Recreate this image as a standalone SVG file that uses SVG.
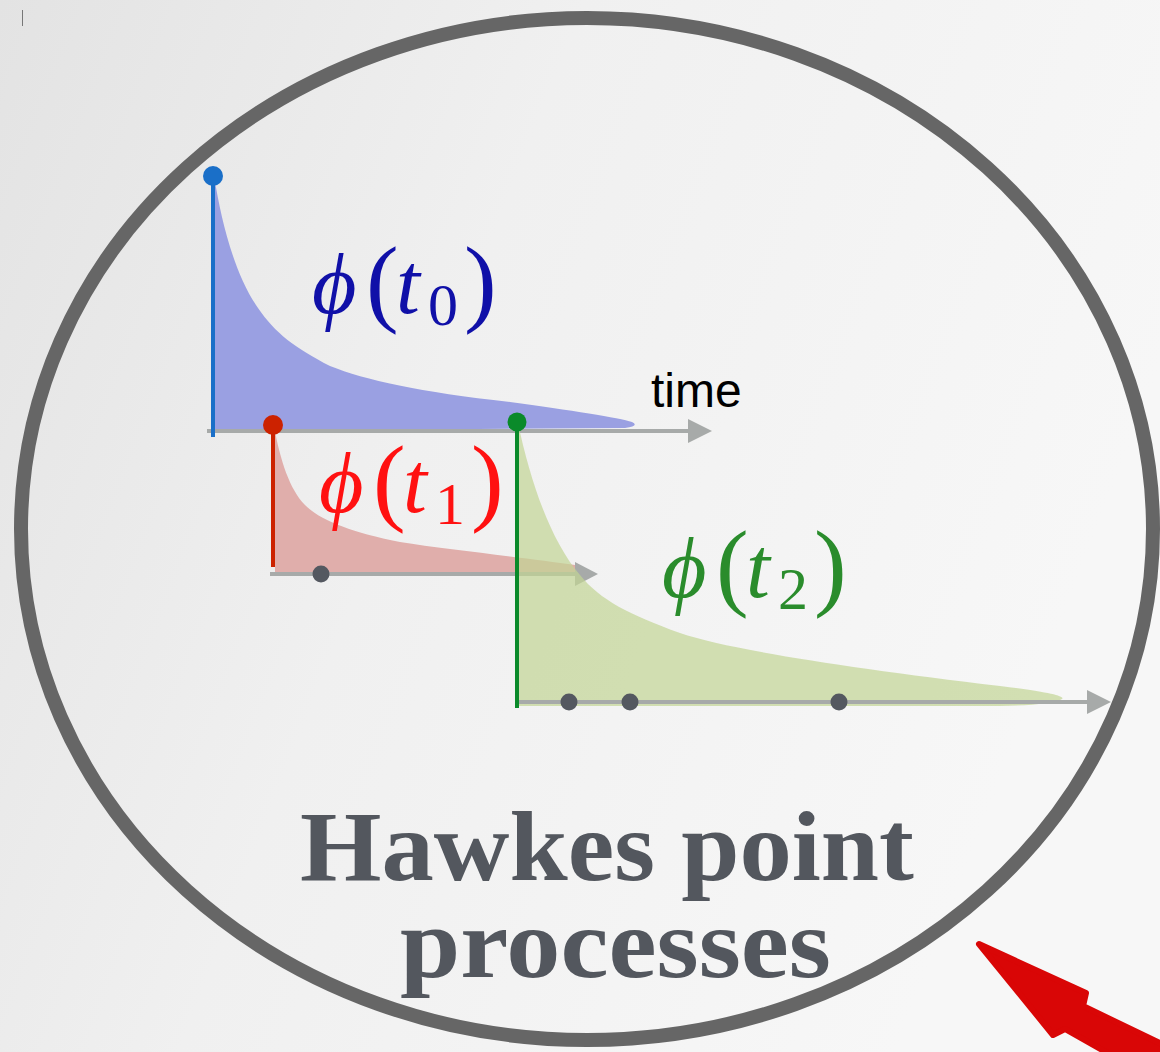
<svg xmlns="http://www.w3.org/2000/svg" width="1160" height="1052" viewBox="0 0 1160 1052">
<style>
.ax{stroke:#a7aaa9;stroke-width:4;fill:none}
.ah{fill:#a7aaa9}
.pt{fill:#545860}
.m{font-family:"Liberation Serif","DejaVu Serif",serif;font-size:86px}
.i{font-style:italic}
.sub{font-size:60px}
.par{font-size:98px}
.title{font-family:"Liberation Serif","DejaVu Serif",serif;font-weight:bold;font-size:100px;fill:#53575e}
</style>
<defs>
<linearGradient id="bg" x1="0" y1="0" x2="1" y2="0.35">
<stop offset="0" stop-color="#e3e3e3"/>
<stop offset="0.45" stop-color="#f0f0f0"/>
<stop offset="1" stop-color="#f7f7f7"/>
</linearGradient>
</defs>
<rect width="1160" height="1052" fill="url(#bg)"/>
<line x1="22.5" y1="10" x2="22.5" y2="26" stroke="#777" stroke-width="1"/>
<ellipse id="circle" cx="587" cy="529" rx="566" ry="511" fill="none" stroke="#666" stroke-width="14"/>

<g id="kernel0">
<path d="M214,176 C222,225 235,275 258,308 C275,333 295,348 330,366 C365,380 420,392 510,402 C570,410 620,418 632,422 Q640,426 625,428 L215,431 Z" fill="#9aa0e2"/>
<line class="ax" x1="207" y1="431" x2="690" y2="431"/>
<polygon class="ah" points="688,419 712,431 688,443"/>
<line x1="213" y1="176" x2="213" y2="437" stroke="#1a6fc8" stroke-width="4"/>
<circle cx="213" cy="176" r="10" fill="#1a6fc8"/>
<text class="m" y="313" fill="#1010a8"><tspan class="i" x="312">ϕ</tspan><tspan class="par" x="366" y="314">(</tspan><tspan class="i" x="396" y="313">t</tspan><tspan class="sub" x="428" y="325">0</tspan><tspan class="par" x="464" y="314">)</tspan></text>
<text x="651" y="407" font-family="Liberation Sans,Arial,sans-serif" font-size="48" fill="#000">time</text>
</g>

<g id="kernel1">
<path d="M274,426 C280,460 290,490 305,505 C320,520 350,532 400,542 C450,550 530,558 575,565 Q592,569 580,572 L275,572 Z" fill="#e0aeab"/>
<line class="ax" x1="270" y1="574" x2="577" y2="574"/>
<polygon class="ah" points="575,562 598,574 575,586"/>
<line x1="273" y1="425" x2="273" y2="567" stroke="#cc2200" stroke-width="4"/>
<circle cx="273" cy="425" r="10" fill="#cc2200"/>
<circle class="pt" cx="321" cy="574" r="8.5"/>
<text class="m" y="512" fill="#ff1111"><tspan class="i" x="319">ϕ</tspan><tspan class="par" x="373" y="513">(</tspan><tspan class="i" x="403" y="512">t</tspan><tspan class="sub" x="435" y="524">1</tspan><tspan class="par" x="471" y="513">)</tspan></text>
</g>

<g id="kernel2">
<path d="M518,423 C530,480 550,540 580,575 C600,600 630,615 680,633 C730,650 850,668 1000,686 C1050,692 1070,697 1060,700 Q1050,705 1000,706 L519,706 Z" fill="#c2d494" fill-opacity="0.7"/>
<line class="ax" x1="519" y1="702" x2="1089" y2="702"/>
<polygon class="ah" points="1087,690 1111,702 1087,714"/>
<line x1="517" y1="422" x2="517" y2="708" stroke="#0a8a2a" stroke-width="4"/>
<circle cx="517" cy="422" r="9.5" fill="#0a8a2a"/>
<circle class="pt" cx="569" cy="702" r="8.5"/>
<circle class="pt" cx="630" cy="702" r="8.5"/>
<circle class="pt" cx="839" cy="702" r="8.5"/>
<text class="m" y="597" fill="#2a8c2c"><tspan class="i" x="662">ϕ</tspan><tspan class="par" x="716" y="598">(</tspan><tspan class="i" x="746" y="597">t</tspan><tspan class="sub" x="778" y="609">2</tspan><tspan class="par" x="814" y="598">)</tspan></text>
</g>

<g id="title">
<text class="title" x="300" y="880" textLength="614" lengthAdjust="spacingAndGlyphs">Hawkes point</text>
<text class="title" x="400" y="977" textLength="431" lengthAdjust="spacingAndGlyphs">processes</text>
</g>

<g id="connectors">
<polygon points="979,944 1086,993 1083,1006 1170,1048 1170,1060 1120,1060 1065,1029 1053,1035" fill="#d90606" stroke="#d90606" stroke-width="6" stroke-linejoin="round"/>
</g>
</svg>
